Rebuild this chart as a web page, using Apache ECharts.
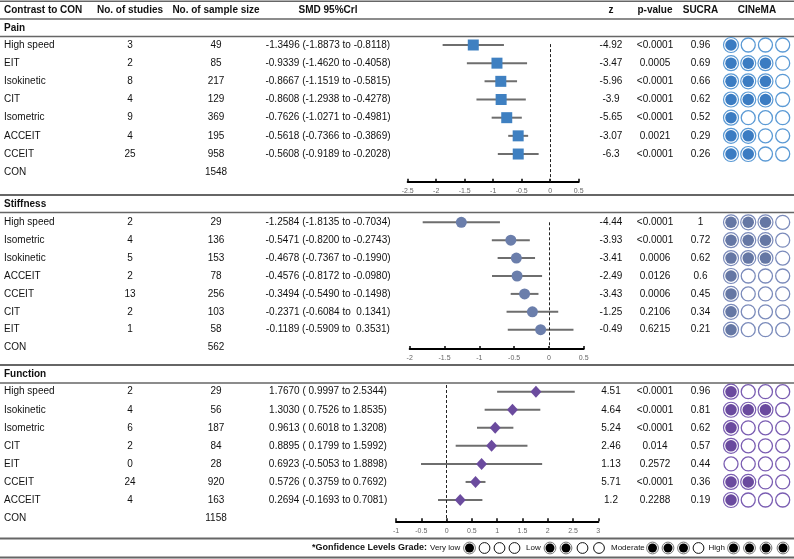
<!DOCTYPE html>
<html><head><meta charset="utf-8">
<script src="https://cdn.jsdelivr.net/npm/echarts@6/dist/echarts.min.js"></script>
<style>html,body{margin:0;padding:0;background:#fff}#c{width:794px;height:559px}</style>
</head><body><div id="c"></div>
<script>
// ---------- DATA ----------
const headers = ['Contrast to CON','No. of studies','No. of sample size','SMD 95%Crl','z','p-value','SUCRA','CINeMA'];

const painNames   = ['High speed','EIT','Isokinetic','CIT','Isometric','ACCEIT','CCEIT'];
const painStudies = [3,2,8,4,9,4,25];
const painSample  = [49,85,217,129,369,195,958];
const painConN    = 1548;
const painSMD     = [-1.3496,-0.9339,-0.8667,-0.8608,-0.7626,-0.5618,-0.5608];
const painLo      = [-1.8873,-1.4620,-1.1519,-1.2938,-1.0271,-0.7366,-0.9189];
const painHi      = [-0.8118,-0.4058,-0.5815,-0.4278,-0.4981,-0.3869,-0.2028];
const painZ       = ['-4.92','-3.47','-5.96','-3.9','-5.65','-3.07','-6.3'];
const painP       = ['<0.0001','0.0005','<0.0001','<0.0001','<0.0001','0.0021','<0.0001'];
const painSUCRA   = ['0.96','0.69','0.66','0.62','0.52','0.29','0.26'];
const painCINeMA  = [1,3,3,3,1,2,2];
const painTicks   = [-2.5,0.5];

const stiffNames   = ['High speed','Isometric','Isokinetic','ACCEIT','CCEIT','CIT','EIT'];
const stiffStudies = [2,4,5,2,13,2,1];
const stiffSample  = [29,136,153,78,256,103,58];
const stiffConN    = 562;
const stiffSMD     = [-1.2584,-0.5471,-0.4678,-0.4576,-0.3494,-0.2371,-0.1189];
const stiffLo      = [-1.8135,-0.8200,-0.7367,-0.8172,-0.5490,-0.6084,-0.5909];
const stiffHi      = [-0.7034,-0.2743,-0.1990,-0.0980,-0.1498,0.1341,0.3531];
const stiffZ       = ['-4.44','-3.93','-3.41','-2.49','-3.43','-1.25','-0.49'];
const stiffP       = ['<0.0001','<0.0001','0.0006','0.0126','0.0006','0.2106','0.6215'];
const stiffSUCRA   = ['1','0.72','0.62','0.6','0.45','0.34','0.21'];
const stiffCINeMA  = [3,3,3,1,1,1,1];
const stiffTicks   = [-2,0.5];

const funcNames   = ['High speed','Isokinetic','Isometric','CIT','EIT','CCEIT','ACCEIT'];
const funcStudies = [2,4,6,2,0,24,4];
const funcSample  = [29,56,187,84,28,920,163];
const funcConN    = 1158;
const funcSMD     = [1.7670,1.3030,0.9613,0.8895,0.6923,0.5726,0.2694];
const funcLo      = [0.9997,0.7526,0.6018,0.1799,-0.5053,0.3759,-0.1693];
const funcHi      = [2.5344,1.8535,1.3208,1.5992,1.8898,0.7692,0.7081];
const funcZ       = ['4.51','4.64','5.24','2.46','1.13','5.71','1.2'];
const funcP       = ['<0.0001','<0.0001','<0.0001','0.014','0.2572','<0.0001','0.2288'];
const funcSUCRA   = ['0.96','0.81','0.62','0.57','0.44','0.36','0.19'];
const funcCINeMA  = [1,3,1,1,0,2,1];
const funcTicks   = [-1,3];

const legendTitle  = '*Gonfidence Levels Grade:';
const legendGrades = ['Very low','Low','Moderate','High'];
const legendFilled = [1,2,3,4];

// ---------- LAYOUT / STYLE ----------
const FONT = '"Liberation Sans", Arial, Helvetica, sans-serif';
const sections = [
  {title:'Pain', names:painNames, studies:painStudies, sample:painSample, conN:painConN, smd:painSMD, lo:painLo, hi:painHi,
   z:painZ, p:painP, sucra:painSUCRA, cinema:painCINeMA, ticks:painTicks, padHi:false,
   titleY:28, row0:45, step:18.17, axisY:181.7, left:407.7, right:578.7, zeroStart:-0.05,
   symbol:'rect', mColor:'#3f80c1', cFill:'#3b7cc2', cRing:'#5b9ad5'},
  {title:'Stiffness', names:stiffNames, studies:stiffStudies, sample:stiffSample, conN:stiffConN, smd:stiffSMD, lo:stiffLo, hi:stiffHi,
   z:stiffZ, p:stiffP, sucra:stiffSUCRA, cinema:stiffCINeMA, ticks:stiffTicks, padHi:true,
   titleY:204, row0:222.3, step:17.9, axisY:349, left:409.7, right:583.7, zeroStart:0,
   symbol:'circle', mColor:'#6b7eab', cFill:'#6577a4', cRing:'#7b8bbb'},
  {title:'Function', names:funcNames, studies:funcStudies, sample:funcSample, conN:funcConN, smd:funcSMD, lo:funcLo, hi:funcHi,
   z:funcZ, p:funcP, sucra:funcSUCRA, cinema:funcCINeMA, ticks:funcTicks, padHi:false,
   titleY:374, row0:391.7, step:18.05, axisY:521.3, left:396, right:598.3, zeroStart:-0.37,
   symbol:'diamond', mColor:'#6b4b9e', cFill:'#6a4a9e', cRing:'#7a5db2'}
];
const COL = {name:4, studies:130, sample:216, smd:328, z:611, p:655, sucra:700.5, cinema:757};
const CIN_LEFT = 722.4, CIN_W = 68.9;

function f4(v){ return v.toFixed(4); }
function smdText(m, lo, hi, padHi){
  return f4(m) + ' (' + (lo < 0 ? '' : ' ') + f4(lo) + ' to ' + (hi >= 0 && padHi ? ' ' : '') + f4(hi) + ')';
}

const grids=[], xAxes=[], yAxes=[], series=[], graphics=[];

function txt(t, x, y, align, bold, size){
  graphics.push({type:'text', silent:true, x:x, y:y,
    style:{text:String(t), fill:'#111', font:(bold?'bold ':'') + (size||10) + 'px ' + FONT,
      textAlign:align, textVerticalAlign:'middle', align:align, verticalAlign:'middle'}});
}
function hline(y, w, c){
  graphics.push({type:'line', silent:true, shape:{x1:0, y1:y, x2:794, y2:y}, style:{stroke:c||'#666', lineWidth:w}});
}

// headers
txt(headers[0], COL.name, 10, 'left', true);
txt(headers[1], COL.studies, 10, 'center', true);
txt(headers[2], COL.sample, 10, 'center', true);
txt(headers[3], COL.smd, 10, 'center', true);
txt(headers[4], COL.z, 10, 'center', true);
txt(headers[5], COL.p, 10, 'center', true);
txt(headers[6], COL.sucra, 10, 'center', true);
txt(headers[7], COL.cinema, 10, 'center', true);

[[1.2,1.5],[19,1.5],[36.5,1.5],[195,2],[212.5,1.5],[365,2],[383,1.5],[538.5,2],[557.5,2]].forEach(l=>hline(l[0], l[1]));

sections.forEach((s, si) => {
  const top = s.row0 - s.step/2;
  const h = s.axisY - top;
  const yMax = -0.5 + h/s.step;
  const n = s.names.length;

  txt(s.title, COL.name, s.titleY, 'left', true);
  for (let i=0;i<=n;i++){
    const y = s.row0 + i*s.step;
    if (i<n){
      txt(s.names[i], COL.name, y, 'left');
      txt(s.studies[i], COL.studies, y, 'center');
      txt(s.sample[i], COL.sample, y, 'center');
      txt(smdText(s.smd[i], s.lo[i], s.hi[i], s.padHi), COL.smd, y, 'center');
      txt(s.z[i], COL.z, y, 'center');
      txt(s.p[i], COL.p, y, 'center');
      txt(s.sucra[i], COL.sucra, y, 'center');
    } else {
      txt('CON', COL.name, y, 'left');
      txt(s.conN, COL.sample, y, 'center');
    }
  }

  // forest grid
  const gi = grids.length;
  grids.push({left:s.left, top:top, width:s.right - s.left, height:h});
  xAxes.push({gridIndex:gi, type:'value', min:s.ticks[0], max:s.ticks[1], interval:0.5,
    axisLine:{show:true, onZero:false, lineStyle:{color:'#000', width:2}},
    axisTick:{show:true, inside:true, length:3, lineStyle:{color:'#000', width:1.5}},
    axisLabel:{fontSize:7, color:'#666', margin:6, fontFamily:FONT},
    splitLine:{show:false}});
  yAxes.push({gridIndex:gi, type:'value', min:-0.5, max:yMax, inverse:true, show:false});

  const ci = s.lo.map((lo,i)=>[lo, s.hi[i], i]);
  series.push({type:'custom', xAxisIndex:gi, yAxisIndex:gi, silent:true, z:2, data:ci,
    renderItem:function(params, api){
      const p1 = api.coord([api.value(0), api.value(2)]);
      const p2 = api.coord([api.value(1), api.value(2)]);
      return {type:'line', shape:{x1:p1[0], y1:p1[1], x2:p2[0], y2:p2[1]}, style:{stroke:'#6e6e6e', lineWidth:2}};
    }});
  series.push({type:'scatter', xAxisIndex:gi, yAxisIndex:gi, silent:true, z:3,
    symbol:s.symbol, symbolSize: s.symbol==='diamond' ? [11,12] : 11,
    itemStyle:{color:s.mColor, opacity:1},
    data:s.smd.map((v,i)=>[v,i]),
    markLine:{silent:true, symbol:'none', label:{show:false}, animation:false,
      lineStyle:{type:[3,2], color:'#222', width:1},
      data:[[{coord:[0, s.zeroStart]},{coord:[0, yMax]}]]}});

  // CINeMA grid
  const gc = grids.length;
  grids.push({left:CIN_LEFT, top:top, width:CIN_W, height:h});
  xAxes.push({gridIndex:gc, type:'value', min:-0.5, max:3.5, show:false});
  yAxes.push({gridIndex:gc, type:'value', min:-0.5, max:yMax, inverse:true, show:false});
  const filled=[], empty=[];
  s.cinema.forEach((c,i)=>{ for(let k=0;k<4;k++){ (k<c ? filled : empty).push([k,i]); } });
  series.push({type:'scatter', xAxisIndex:gc, yAxisIndex:gc, silent:true, z:2, symbolSize:15,
    itemStyle:{color:'#fff', borderColor:s.cRing, borderWidth:1.2, opacity:1}, data:filled});
  series.push({type:'scatter', xAxisIndex:gc, yAxisIndex:gc, silent:true, z:3, symbolSize:11.5,
    itemStyle:{color:s.cFill, opacity:1}, data:filled});
  series.push({type:'scatter', xAxisIndex:gc, yAxisIndex:gc, silent:true, z:2, symbolSize:14,
    itemStyle:{color:'#fff', borderColor:s.cRing, borderWidth:1.3, opacity:1}, data:empty});
});

// legend row
const LY = 548;
txt(legendTitle, 427, LY, 'right', true, 9);
const gradeX = [430, 526, 611, 708.5];
const gradeC = [[469.5,484.5,499.5,514.5],[550,566,582.5,599],[652.5,668,683.5,698.5],[733.5,749.5,766,783]];
legendGrades.forEach((g, gi) => {
  txt(g, gradeX[gi], LY, 'left', false, 8);
  gradeC[gi].forEach((cx, k) => {
    if (k < legendFilled[gi]) {
      graphics.push({type:'circle', silent:true, shape:{cx:cx, cy:LY, r:5.9}, style:{fill:'#fff', stroke:'#777', lineWidth:1}});
      graphics.push({type:'circle', silent:true, shape:{cx:cx, cy:LY, r:4.5}, style:{fill:'#000'}});
    } else {
      graphics.push({type:'circle', silent:true, shape:{cx:cx, cy:LY, r:5.4}, style:{fill:'#fff', stroke:'#111', lineWidth:1}});
    }
  });
});

const chart = echarts.init(document.getElementById('c'), null, {renderer:'canvas'});
chart.setOption({
  animation:false,
  backgroundColor:'#fff',
  grid:grids, xAxis:xAxes, yAxis:yAxes, series:series,
  graphic:{elements:graphics}
});
</script>
</body></html>
